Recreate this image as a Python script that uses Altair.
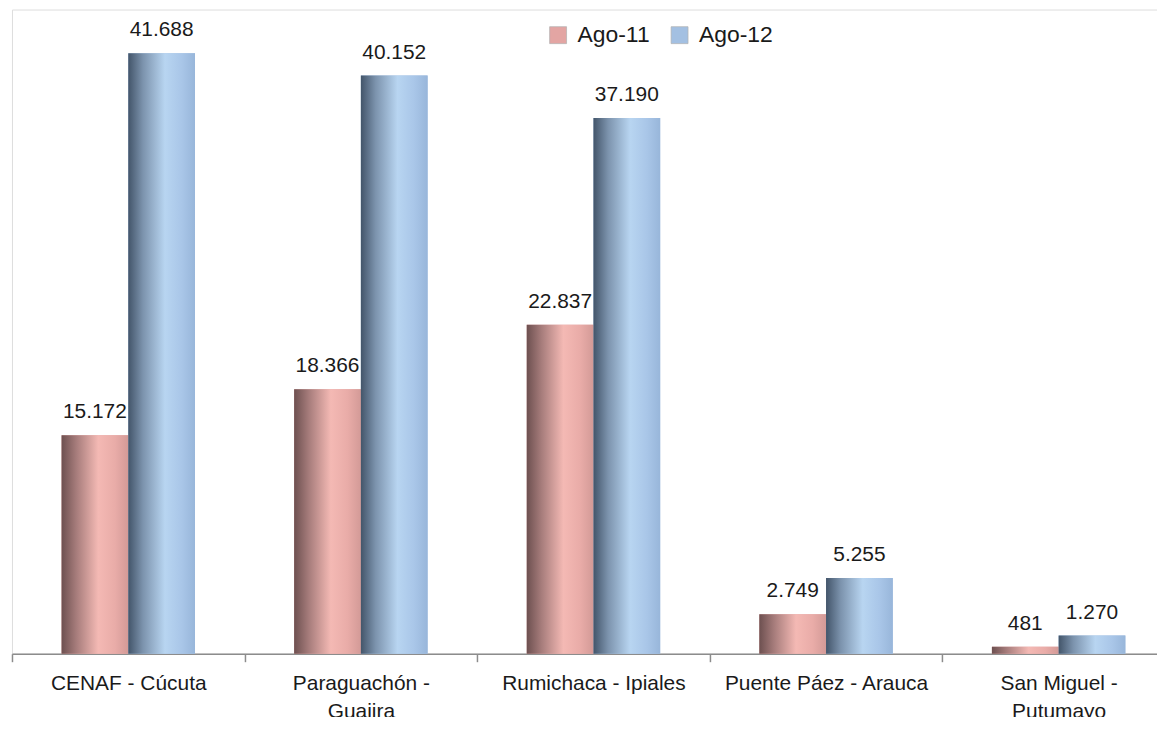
import altair as alt
import pandas as pd

categories = ["CENAF - Cúcuta", "Paraguachón -|Guajira", "Rumichaca - Ipiales",
              "Puente Páez - Arauca", "San Miguel -|Putumayo"]
series_names = ["Ago-11", "Ago-12"]
ago11 = [15172, 18366, 22837, 2749, 481]
ago12 = [41688, 40152, 37190, 5255, 1270]

rows = []
for c, a, b in zip(categories, ago11, ago12):
    rows.append({"lugar": c, "serie": "Ago-11", "valor": a})
    rows.append({"lugar": c, "serie": "Ago-12", "valor": b})
df = pd.DataFrame(rows)
df["etiqueta"] = df["valor"].map(lambda v: f"{v:,}".replace(",", "."))

FONT = "Liberation Sans"

x_enc = alt.X("lugar:N", sort=categories, title=None,
              scale=alt.Scale(range=[0, 1168], paddingInner=0, paddingOuter=0),
              axis=alt.Axis(labelExpr="split(datum.label, '|')", labelAngle=0,
                            labelFont=FONT, labelFontSize=21, labelColor="#1a1a1a",
                            labelLineHeight=28, labelPadding=11, labelBaseline="top",
                            labelLimit=400,
                            domainColor="#8c8c8c", domainWidth=1.5,
                            tickColor="#8c8c8c", tickSize=8, tickWidth=1.5,
                            tickBand="extent", grid=False))
xo_enc = alt.XOffset("serie:N", sort=series_names,
                     scale=alt.Scale(paddingInner=0, paddingOuter=0.743))
y_enc = alt.Y("valor:Q", title=None, scale=alt.Scale(domain=[0, 44729], nice=False),
              axis=None)

base = alt.Chart(df)

legend_bars = base.mark_bar().encode(
    x=x_enc, xOffset=xo_enc, y=y_enc,
    color=alt.Color("serie:N", sort=series_names,
                    scale=alt.Scale(domain=series_names, range=["#e3a5a3", "#a3c0e2"]),
                    legend=alt.Legend(title=None, orient="none", legendX=537, legendY=14,
                                      direction="horizontal", symbolType="square",
                                      symbolSize=289, symbolStrokeColor="#b0b0b0",
                                      symbolStrokeWidth=0.7, labelFont=FONT,
                                      labelFontSize=23, labelColor="#1a1a1a",
                                      labelOffset=8, columnPadding=18, padding=0)),
)

def grad(stops):
    return alt.Gradient(gradient="linear", x1=0, x2=1, y1=0, y2=0,
                        stops=[alt.GradientStop(offset=o, color=c) for o, c in stops])

pink = grad([(0, "#6d5050"), (0.22, "#a67c7b"), (0.55, "#f4b9b4"), (0.8, "#e9aca8"), (1, "#d39a97")])
blue = grad([(0, "#43556a"), (0.22, "#7c93ad"), (0.55, "#b8d5f1"), (0.8, "#a9c6e8"), (1, "#98b6da")])

pink_bars = base.mark_bar(color=pink).encode(x=x_enc, xOffset=xo_enc, y=y_enc).transform_filter(
    alt.datum.serie == "Ago-11")
blue_bars = base.mark_bar(color=blue).encode(x=x_enc, xOffset=xo_enc, y=y_enc).transform_filter(
    alt.datum.serie == "Ago-12")

labels = base.mark_text(font=FONT, fontSize=21, color="#1a1a1a", baseline="alphabetic",
                        dy=-17).encode(x=x_enc, xOffset=xo_enc, y=y_enc, text="etiqueta:N")

chart = alt.layer(legend_bars, pink_bars, blue_bars, labels).properties(
    width=1150, height=647,
    autosize=alt.AutoSizeParams(type="none"),
    padding={"left": 4, "top": 0, "right": 0, "bottom": 62},
).configure_view(stroke=None).configure(background="white")

chart.save("out.html", embed_options={"renderer": "svg", "actions": False})
